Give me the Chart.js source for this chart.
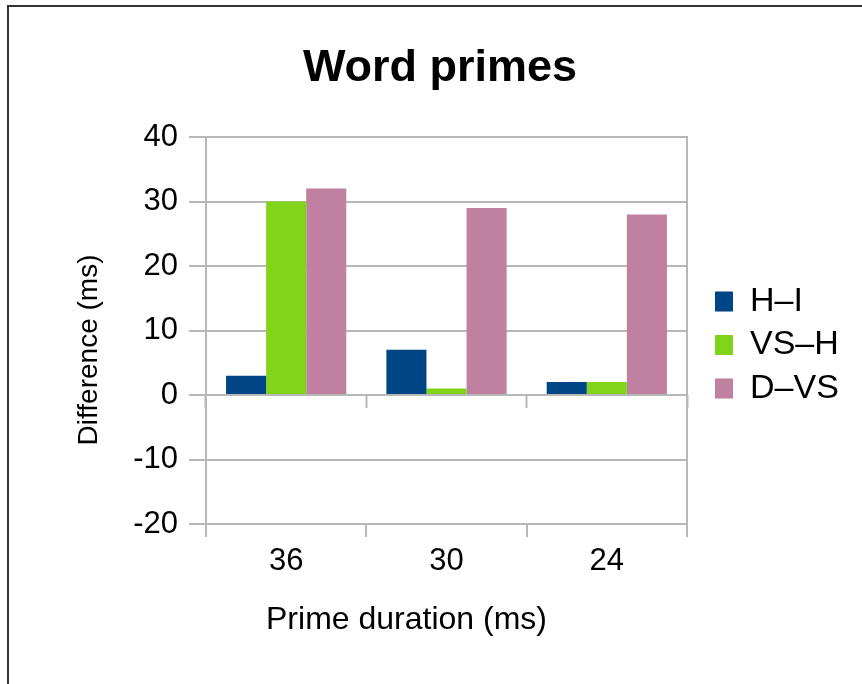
<!DOCTYPE html>
<html><head><meta charset="utf-8">
<script src="https://cdn.jsdelivr.net/npm/chart.js@4"></script>
<style>
html,body{margin:0;padding:0;background:#fff;}
#wrap{position:relative;width:862px;height:684px;overflow:hidden;background:#fff;}
#frame{position:absolute;left:7px;top:5px;width:900px;height:700px;border-top:2px solid #333;border-left:2px solid #333;}
canvas{position:absolute;left:0;top:0;}
</style></head><body>
<div id="wrap"><div id="frame"></div><canvas id="c" width="862" height="684"></canvas></div>
<script>
const categories = ['36', '30', '24'];
const seriesNames = ['H–I', 'VS–H', 'D–VS'];
const hiValues = [3, 7, 2];
const vshValues = [30, 1, 2];
const dvsValues = [32, 29, 28];
const yTickValues = [-20, -10, 0, 10, 20, 30, 40];
const seriesColors = ['#004586', '#81d41a', '#c0809f'];

const FAMILY = "'Liberation Sans', Arial, sans-serif";
const GRID = '#b8b8b8';
const legendFont = 34, legendPad = 9.5, boxW = 18;
const boxLeftTarget = 715;
const legendLeft = boxLeftTarget - legendPad;

let padRight = 10;
let padLeft = 18 + padRight;

const datasets = [hiValues, vshValues, dvsValues].map((vals, i) => ({
  label: seriesNames[i],
  data: vals,
  backgroundColor: seriesColors[i],
  borderWidth: 0,
  categoryPercentage: 0.75,
  barPercentage: 1.0
}));

const chart = new Chart(document.getElementById('c'), {
  type: 'bar',
  data: { labels: categories, datasets },
  options: {
    responsive: false,
    devicePixelRatio: 1,
    animation: false,
    layout: { padding: { left: padLeft, right: padRight, top: 0, bottom: 0 } },
    plugins: {
      title: {
        display: true,
        text: 'Word primes',
        color: '#000',
        font: { family: FAMILY, size: 45, weight: 'bold', lineHeight: 1.2 },
        padding: { top: 42, bottom: 41 }
      },
      legend: {
        display: true,
        position: 'right',
        align: 'center',
        maxWidth: 400,
        title: { display: true, text: '', font: { size: 6, lineHeight: 1 }, padding: 0 },
        labels: {
          color: '#000',
          font: { family: FAMILY, size: legendFont },
          boxWidth: boxW,
          boxHeight: 20,
          padding: legendPad
        }
      },
      tooltip: { enabled: false }
    },
    scales: {
      x: {
        type: 'category',
        position: 'bottom',
        offset: true,
        grid: { offset: true, drawOnChartArea: false, drawTicks: true, tickLength: 13, tickColor: GRID, tickWidth: 2, color: GRID, lineWidth: 2 },
        border: { display: true, color: GRID, width: 2 },
        ticks: { color: '#000', font: { family: FAMILY, size: 31, lineHeight: 1.2 }, padding: 6 },
        title: {
          display: true,
          text: 'Prime duration (ms)         ',
          color: '#000',
          font: { family: FAMILY, size: 32, lineHeight: 1.2 },
          padding: { top: 0, bottom: 44.8 }
        },
        afterFit: s => { s.height = 160; }
      },
      x2: {
        type: 'category',
        position: { y: 0 },
        offset: true,
        grid: { offset: true, drawOnChartArea: false, drawTicks: true, tickLength: 13, tickColor: GRID, tickWidth: 2, color: GRID },
        border: { display: false },
        ticks: { display: false }
      },
      y: {
        type: 'linear',
        position: 'left',
        min: yTickValues[0],
        max: yTickValues[yTickValues.length - 1],
        ticks: { stepSize: yTickValues[1] - yTickValues[0], color: '#000', font: { family: FAMILY, size: 31 }, padding: 11 },
        grid: { color: GRID, lineWidth: 2, tickLength: 17, drawTicks: true },
        border: { display: true, color: GRID, width: 2 },
        title: {
          display: true,
          text: 'Difference (ms)     ',
          color: '#000',
          font: { family: FAMILY, size: 28, lineHeight: 1.2 },
          padding: { top: 89 - padLeft - 16.8, bottom: 0 }
        },
        afterFit: s => { s.width = 206 - padLeft; }
      },
      y2: {
        type: 'linear',
        position: 'right',
        grid: { drawOnChartArea: false, drawTicks: false },
        border: { display: true, color: GRID, width: 2 },
        ticks: { display: false },
        afterFit: s => { s.width = legendLeft - 687; }
      }
    }
  }
});

// second pass: place legend exactly from its natural width
const W = chart.legend.width;
padRight = Math.max(0, 862 - legendLeft - W);
padLeft = 18 + padRight;
chart.options.layout.padding.left = padLeft;
chart.options.layout.padding.right = padRight;
chart.options.scales.y.title.padding = { top: 89 - padLeft - 16.8, bottom: 0 };
chart.update('none');
</script>
</body></html>
